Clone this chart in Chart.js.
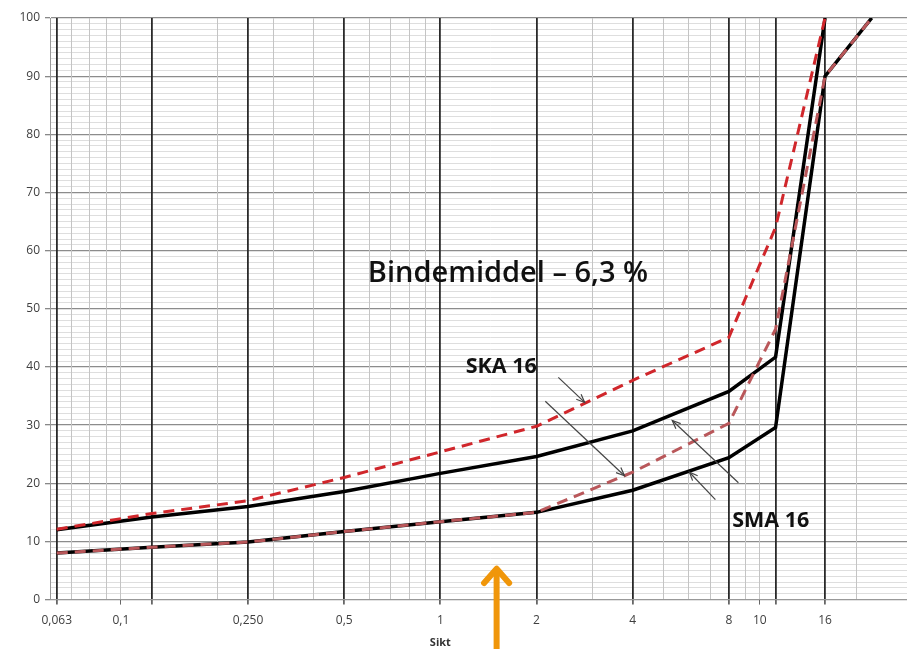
<!DOCTYPE html>
<html>
<head>
<meta charset="utf-8">
<script src="https://cdn.jsdelivr.net/npm/chart.js@4.4.1/dist/chart.umd.min.js"></script>
<style>
  html, body { margin: 0; padding: 0; background: #fff; overflow: hidden; }
  #wrap { width: 907px; height: 649px; overflow: hidden; }
</style>
</head>
<body>
<div id="wrap"><canvas id="myChart" width="940" height="649"></canvas></div>
<script>
// sieve sizes (mm) and passing percentages
const sieves = [0.063, 0.125, 0.25, 0.5, 1, 2, 4, 8, 11.2, 16, 22.4];
const skaUpper = [12.1, 14.8, 17, 21, 25.4, 29.8, 37.7, 45.1, 64, 100, null];
const skaLower = [8, 9, 9.9, 11.7, 13.4, 15, 21.9, 30.3, 46.5, 90, 100];
const smaUpper = [12, 14.2, 16, 18.6, 21.7, 24.6, 29, 35.8, 41.7, 100, null];
const smaLower = [8, 9, 9.9, 11.7, 13.4, 15, 18.8, 24.4, 29.6, 90, 100];

// axis ticks
const xTickValues = [0.063, 0.1, 0.25, 0.5, 1, 2, 4, 8, 10, 16, 31.5];
const xTickLabels = ['0,063', '0,1', '0,250', '0,5', '1', '2', '4', '8', '10', '16', '31,5'];
const majorSieves = [0.063, 0.125, 0.25, 0.5, 1, 2, 4, 8, 11.2, 16, 31.5];
const minorLines = [0.07, 0.08, 0.09, 0.1, 0.2, 0.3, 0.4, 0.6, 0.7, 0.8, 0.9, 3, 5, 6, 7, 9, 10, 20, 30];
const xGridValues = [...majorSieves, ...minorLines].sort((a, b) => a - b);

// annotations in data units
const labelNotes = [
  { text: 'Bindemiddel – 6,3 %', x: 0.593, y: 56.1, font: '600 29px "Open Sans"' },
  { text: 'SKA 16', x: 1.2, y: 40.1, font: 'bold 21.5px "Open Sans"' },
  { text: 'SMA 16', x: 8.19, y: 13.6, font: 'bold 21.5px "Open Sans"' },
];
const arrowNotes = [
  [2.34, 38.2, 2.83, 33.9],
  [2.13, 34.1, 3.77, 21.3],
  [8.57, 20.1, 5.32, 30.8],
  [7.26, 17.2, 6.02, 21.9],
];
const pointerNote = { x: 1.5, y: 5.3 };
const axisTitle = { text: 'Sikt', x: 1 };

const toPoints = (ys) => sieves.map((x, i) => ({ x: x, y: ys[i] }));

function arrowHead(c, x1, y1, x2, y2, len, spread) {
  const a = Math.atan2(y2 - y1, x2 - x1);
  c.beginPath();
  c.moveTo(x2 - len * Math.cos(a - spread), y2 - len * Math.sin(a - spread));
  c.lineTo(x2, y2);
  c.lineTo(x2 - len * Math.cos(a + spread), y2 - len * Math.sin(a + spread));
  c.stroke();
}

const notesPlugin = {
  id: 'notes',
  afterDatasetsDraw(chart) {
    const c = chart.ctx;
    const xs = chart.scales.x;
    const ys = chart.scales.y;
    c.save();
    c.fillStyle = '#111';
    c.textAlign = 'left';
    c.textBaseline = 'middle';
    labelNotes.forEach((n) => {
      c.font = n.font;
      c.fillText(n.text, xs.getPixelForValue(n.x), ys.getPixelForValue(n.y));
    });
    c.strokeStyle = '#444';
    c.lineWidth = 1.2;
    arrowNotes.forEach((a) => {
      const x1 = xs.getPixelForValue(a[0]);
      const y1 = ys.getPixelForValue(a[1]);
      const x2 = xs.getPixelForValue(a[2]);
      const y2 = ys.getPixelForValue(a[3]);
      c.beginPath();
      c.moveTo(x1, y1);
      c.lineTo(x2, y2);
      c.stroke();
      arrowHead(c, x1, y1, x2, y2, 9, 0.4);
    });
    c.restore();
  },
  afterDraw(chart) {
    const c = chart.ctx;
    const xs = chart.scales.x;
    c.save();
    // axis title under the "1" tick
    c.fillStyle = '#333';
    c.font = 'bold 11px "Open Sans"';
    c.textAlign = 'center';
    c.textBaseline = 'middle';
    c.fillText(axisTitle.text, xs.getPixelForValue(axisTitle.x), chart.height - 6);
    // orange pointer
    const px = xs.getPixelForValue(pointerNote.x);
    const py = chart.scales.y.getPixelForValue(pointerNote.y);
    c.strokeStyle = '#f0960a';
    c.lineWidth = 6;
    c.lineCap = 'round';
    c.lineJoin = 'round';
    c.beginPath();
    c.moveTo(px, chart.height + 5);
    c.lineTo(px, py + 2);
    c.stroke();
    arrowHead(c, px, chart.height, px, py, 19, 0.72);
    c.restore();
  },
};

const ctx = document.getElementById('myChart');

const chart = new Chart(ctx, {
  type: 'line',
  data: {
    datasets: [
      {
        label: 'SKA 16 øvre',
        data: toPoints(skaUpper),
        borderColor: '#d0262b',
        borderWidth: 3,
        borderDash: [11, 7],
        order: 1,
      },
      {
        label: 'SKA 16 nedre',
        data: toPoints(skaLower),
        borderColor: '#b9575a',
        borderWidth: 3,
        borderDash: [11, 7],
        order: 2,
      },
      {
        label: 'SMA 16 øvre',
        data: toPoints(smaUpper),
        borderColor: '#000',
        borderWidth: 3.5,
        order: 3,
      },
      {
        label: 'SMA 16 nedre',
        data: toPoints(smaLower),
        borderColor: '#000',
        borderWidth: 3.5,
        order: 4,
      },
    ],
  },
  options: {
    responsive: false,
    animation: false,
    devicePixelRatio: 1,
    layout: { padding: { top: 18, right: 10, bottom: 12, left: 0 } },
    elements: {
      point: { radius: 0 },
      line: { tension: 0, fill: false, borderJoinStyle: 'miter' },
    },
    plugins: {
      legend: { display: false },
      tooltip: { enabled: false },
    },
    scales: {
      x: {
        type: 'logarithmic',
        min: 0.06,
        max: 34,
        afterBuildTicks: (s) => {
          s.ticks = xGridValues.map((v) => ({ value: v }));
        },
        ticks: {
          autoSkip: false,
          maxRotation: 0,
          padding: 9,
          color: '#404040',
          font: { family: 'Open Sans', size: 12 },
          callback: (v) => {
            const i = xTickValues.indexOf(v);
            return i >= 0 ? xTickLabels[i] : '';
          },
        },
        grid: {
          z: -1,
          color: (c) => (majorSieves.includes(c.tick.value) ? '#2a2a2a' : '#c4c4c4'),
          lineWidth: (c) => (majorSieves.includes(c.tick.value) ? 1.8 : 1),
          tickLength: 5,
          tickColor: (c) => (xTickValues.includes(c.tick.value) || majorSieves.includes(c.tick.value) ? '#666' : 'rgba(0,0,0,0)'),
        },
        border: { color: '#999', width: 1 },
      },
      y: {
        min: 0,
        max: 100,
        afterFit: (s) => {
          s.width = 50;
        },
        ticks: {
          stepSize: 1,
          maxTicksLimit: 101,
          autoSkip: false,
          padding: 5,
          color: '#404040',
          font: { family: 'Open Sans', size: 12 },
          callback: (v) => (v % 10 === 0 ? v : ''),
        },
        grid: {
          z: -2,
          color: (c) => (c.tick.value % 10 === 0 ? '#8c8c8c' : '#dedede'),
          lineWidth: (c) => (c.tick.value % 10 === 0 ? 1.3 : 1),
          tickLength: 5,
          tickColor: (c) => (c.tick.value % 10 === 0 ? '#888' : 'rgba(0,0,0,0)'),
        },
        border: { color: '#999', width: 1 },
      },
    },
  },
  plugins: [notesPlugin],
});
</script>
</body>
</html>
